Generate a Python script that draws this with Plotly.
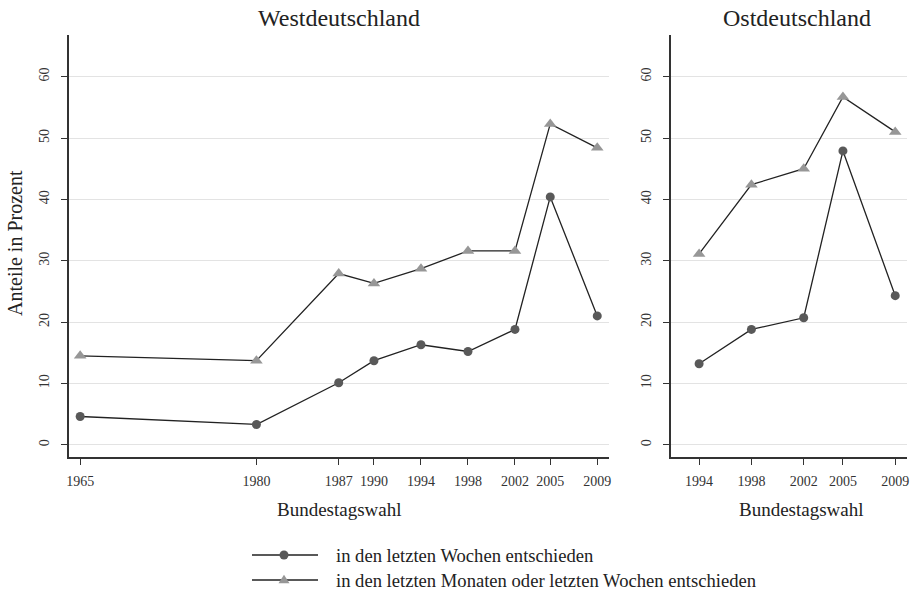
import plotly.graph_objects as go

# Bundestagswahlen und Anteile (in Prozent)
west_years = [1965, 1980, 1987, 1990, 1994, 1998, 2002, 2005, 2009]
west_wochen = [4.6, 3.3, 10.1, 13.7, 16.3, 15.2, 18.8, 40.4, 21.0]
west_monate = [14.5, 13.7, 27.9, 26.3, 28.7, 31.6, 31.6, 52.3, 48.4]

ost_years = [1994, 1998, 2002, 2005, 2009]
ost_wochen = [13.2, 18.8, 20.7, 47.9, 24.3]
ost_monate = [31.1, 42.4, 45.0, 56.7, 51.0]

y_ticks = [0, 10, 20, 30, 40, 50, 60]

label_wochen = "in den letzten Wochen entschieden"
label_monate = "in den letzten Monaten oder letzten Wochen entschieden"

FONT = "Liberation Serif"
TXT = "#222222"
LINE_COLOR = "#222222"
CIRCLE_COLOR = "#595959"
TRIANGLE_COLOR = "#979797"
LINE = dict(color=LINE_COLOR, width=1.3)
CIRCLE = dict(symbol="circle", size=9, color=CIRCLE_COLOR)
TRIANGLE = dict(symbol="triangle-up", size=11, color=TRIANGLE_COLOR)

fig = go.Figure()

fig.add_trace(go.Scatter(x=west_years, y=west_wochen, mode="lines+markers",
                         line=LINE, marker=CIRCLE, name=label_wochen,
                         xaxis="x", yaxis="y"))
fig.add_trace(go.Scatter(x=west_years, y=west_monate, mode="lines+markers",
                         line=LINE, marker=TRIANGLE, name=label_monate,
                         xaxis="x", yaxis="y"))
fig.add_trace(go.Scatter(x=ost_years, y=ost_wochen, mode="lines+markers",
                         line=LINE, marker=CIRCLE, name=label_wochen,
                         xaxis="x2", yaxis="y2"))
fig.add_trace(go.Scatter(x=ost_years, y=ost_monate, mode="lines+markers",
                         line=LINE, marker=TRIANGLE, name=label_monate,
                         xaxis="x2", yaxis="y2"))

W, H = 913, 593
y_dom = [(H - 457) / H, (H - 35) / H]


def px_x(v):
    return v / W


def px_y(v):
    return (H - v) / H


common_x = dict(showline=True, linecolor="#333333", linewidth=1.5,
                ticks="outside", ticklen=6, tickcolor="#333333", tickwidth=1.3,
                showgrid=False, zeroline=False, automargin=False,
                ticklabelstandoff=4,
                tickfont=dict(family=FONT, size=14, color="#333333"))
common_y = dict(showline=True, linecolor="#333333", linewidth=1.5,
                ticks="outside", ticklen=6, tickcolor="#333333", tickwidth=1.3,
                showgrid=True, gridcolor="#e3e3e3", gridwidth=1.3,
                zeroline=False, range=[-2, 66.8], automargin=False,
                tickvals=y_ticks, tickangle=-90, ticklabelstandoff=7,
                tickfont=dict(family=FONT, size=14, color="#333333"),
                domain=y_dom)

annotations = [
    dict(text="Westdeutschland", x=px_x(339), y=px_y(18)),
    dict(text="Ostdeutschland", x=px_x(797), y=px_y(18)),
]
for a in annotations:
    a["font"] = dict(family=FONT, size=24, color=TXT)
annotations += [
    dict(text="Bundestagswahl", x=px_x(339), y=px_y(509),
         font=dict(family=FONT, size=19, color=TXT)),
    dict(text="Bundestagswahl", x=px_x(801), y=px_y(509),
         font=dict(family=FONT, size=19, color=TXT)),
    dict(text="Anteile in Prozent", x=px_x(15), y=px_y(243), textangle=-90,
         font=dict(family=FONT, size=20, color=TXT)),
]
for a in annotations:
    a.update(xanchor="center")

# Legend below the panels: key line with symbol, then label
shapes = []
legend_rows = [(label_wochen, "circle", 555), (label_monate, "triangle", 580)]
key_x0, key_x1, key_mid, text_x = 252, 318, 284, 334
for label, sym, yy in legend_rows:
    shapes.append(dict(type="line", xref="paper", yref="paper",
                       x0=px_x(key_x0), x1=px_x(key_x1), y0=px_y(yy), y1=px_y(yy),
                       line=dict(color=LINE_COLOR, width=1.3)))
    if sym == "circle":
        r = 4.5
        shapes.append(dict(type="circle", xref="paper", yref="paper",
                           x0=px_x(key_mid - r), x1=px_x(key_mid + r),
                           y0=px_y(yy + r), y1=px_y(yy - r),
                           fillcolor=CIRCLE_COLOR, line=dict(width=0)))
    else:
        h, hw = 8.5, 5.5
        path = "M {:.5f},{:.5f} L {:.5f},{:.5f} L {:.5f},{:.5f} Z".format(
            px_x(key_mid - hw), px_y(yy + h / 2.6),
            px_x(key_mid + hw), px_y(yy + h / 2.6),
            px_x(key_mid), px_y(yy + h / 2.6 - h))
        shapes.append(dict(type="path", xref="paper", yref="paper", path=path,
                           fillcolor=TRIANGLE_COLOR, line=dict(width=0)))
    annotations.append(dict(text=label, x=px_x(text_x), y=px_y(yy),
                            xanchor="left",
                            font=dict(family=FONT, size=18.6, color=TXT)))

for a in annotations:
    a.update(xref="paper", yref="paper", showarrow=False, yanchor="middle")

fig.update_layout(
    width=W, height=H,
    margin=dict(l=0, r=0, t=0, b=0),
    paper_bgcolor="white", plot_bgcolor="white",
    font=dict(family=FONT, color=TXT),
    showlegend=False,
    xaxis=dict(common_x, domain=[px_x(69), px_x(609)], range=[1964.05, 2010.0],
               tickvals=west_years, anchor="y"),
    yaxis=dict(common_y, anchor="x"),
    xaxis2=dict(common_x, domain=[px_x(671), px_x(907)], range=[1991.85, 2009.9],
                tickvals=ost_years, anchor="y2"),
    yaxis2=dict(common_y, anchor="x2"),
    shapes=shapes,
    annotations=annotations,
)

fig.write_html("out.html")
